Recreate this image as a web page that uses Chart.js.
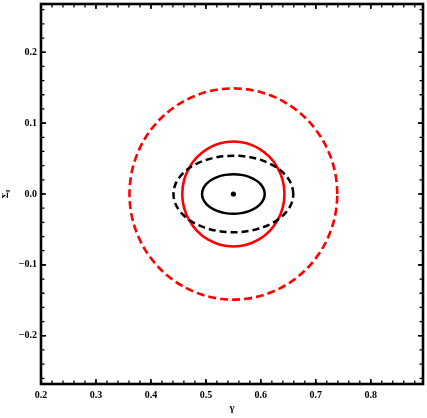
<!DOCTYPE html>
<html>
<head>
<meta charset="utf-8">
<script src="https://cdn.jsdelivr.net/npm/chart.js@4"></script>
<style>
  html, body { margin: 0; padding: 0; background: #fff; }
  #wrap { width: 427px; height: 418px; }
</style>
</head>
<body>
<div id="wrap"><canvas id="contourChart"></canvas></div>
<script>
// Axis ticks and ranges
const xTicks = [0.2, 0.3, 0.4, 0.5, 0.6, 0.7, 0.8];
const yTicks = [-0.2, -0.1, 0.0, 0.1, 0.2];
const xRange = [0.2, 0.895];
const yRange = [-0.268, 0.268];
const minorStep = 0.02;

// Best-fit point (gamma, Sigma0)
const bestFit = [{ x: 0.55, y: 0.0 }];

// Contours, points read around each closed curve (first point not repeated)
const innerSolidX = [0.607, 0.6051, 0.5994, 0.5903, 0.5785, 0.5648, 0.55, 0.5352, 0.5215, 0.5097, 0.5006, 0.4949, 0.493, 0.4949, 0.5006, 0.5097, 0.5215, 0.5352, 0.55, 0.5648, 0.5785, 0.5903, 0.5994, 0.6051];
const innerSolidY = [0, 0.0072, 0.014, 0.0198, 0.0242, 0.027, 0.028, 0.027, 0.0242, 0.0198, 0.014, 0.0072, 0, -0.0072, -0.014, -0.0198, -0.0242, -0.027, -0.028, -0.027, -0.0242, -0.0198, -0.014, -0.0072];

const blackDashX = [0.659, 0.6553, 0.6444, 0.6271, 0.6045, 0.5782, 0.55, 0.5218, 0.4955, 0.4729, 0.4556, 0.4447, 0.441, 0.4447, 0.4556, 0.4729, 0.4955, 0.5218, 0.55, 0.5782, 0.6045, 0.6271, 0.6444, 0.6553];
const blackDashY = [0, 0.014, 0.027, 0.0382, 0.0468, 0.0522, 0.054, 0.0522, 0.0468, 0.0382, 0.027, 0.014, 0, -0.014, -0.027, -0.0382, -0.0468, -0.0522, -0.054, -0.0522, -0.0468, -0.0382, -0.027, -0.014];

const redSolidX = [0.643, 0.6398, 0.6305, 0.6158, 0.5965, 0.5741, 0.55, 0.5259, 0.5035, 0.4842, 0.4695, 0.4602, 0.457, 0.4602, 0.4695, 0.4842, 0.5035, 0.5259, 0.55, 0.5741, 0.5965, 0.6158, 0.6305, 0.6398];
const redSolidY = [0, 0.0192, 0.037, 0.0523, 0.0641, 0.0715, 0.074, 0.0715, 0.0641, 0.0523, 0.037, 0.0192, 0, -0.0192, -0.037, -0.0523, -0.0641, -0.0715, -0.074, -0.0715, -0.0641, -0.0523, -0.037, -0.0192];

const redDashX = [0.739, 0.7326, 0.7137, 0.6836, 0.6445, 0.5989, 0.55, 0.5011, 0.4555, 0.4164, 0.3863, 0.3674, 0.361, 0.3674, 0.3863, 0.4164, 0.4555, 0.5011, 0.55, 0.5989, 0.6445, 0.6836, 0.7137, 0.7326];
const redDashY = [0, 0.0386, 0.0745, 0.1054, 0.129, 0.1439, 0.149, 0.1439, 0.129, 0.1054, 0.0745, 0.0386, 0, -0.0386, -0.0745, -0.1054, -0.129, -0.1439, -0.149, -0.1439, -0.129, -0.1054, -0.0745, -0.0386];

// closed loop: wrap one point at each end so the spline stays smooth at the join,
// the two wrap segments are drawn transparent
function loopPoints(xs, ys) {
  const pts = xs.map((x, i) => ({ x: x, y: ys[i] }));
  return [pts[pts.length - 1], ...pts, pts[0], pts[1]];
}

function curve(xs, ys, color, dash, width) {
  const data = loopPoints(xs, ys);
  const last = data.length - 1;
  return {
    data: data,
    showLine: true,
    borderColor: color,
    borderWidth: width,
    borderDash: dash,
    pointRadius: 0,
    tension: 0.33,
    fill: false,
    segment: {
      borderColor: c => (c.p0DataIndex === 0 || c.p1DataIndex === last) ? 'rgba(0,0,0,0)' : color
    }
  };
}

const labelFont = { family: 'Liberation Serif', size: 10, weight: 'bold' };

function fmt(v) {
  return v.toFixed(1).replace('-', '\u2212');
}

// Mathematica style frame with inward ticks on all four sides
const frameTicks = {
  id: 'frameTicks',
  afterDraw(chart) {
    const ctx = chart.ctx;
    const a = chart.chartArea;
    const x = chart.scales.x;
    const y = chart.scales.y;
    ctx.save();
    ctx.strokeStyle = '#000';

    ctx.lineWidth = 1.3;
    ctx.beginPath();
    for (let v = xRange[0]; v <= xRange[1] + 1e-9; v += minorStep) {
      const px = x.getPixelForValue(v);
      ctx.moveTo(px, a.bottom); ctx.lineTo(px, a.bottom - 3.5);
      ctx.moveTo(px, a.top); ctx.lineTo(px, a.top + 3.5);
    }
    for (let v = -0.26; v <= 0.26 + 1e-9; v += minorStep) {
      const py = y.getPixelForValue(v);
      ctx.moveTo(a.left, py); ctx.lineTo(a.left + 3.5, py);
      ctx.moveTo(a.right, py); ctx.lineTo(a.right - 3.5, py);
    }
    ctx.stroke();

    ctx.lineWidth = 1.6;
    ctx.beginPath();
    xTicks.forEach(v => {
      const px = x.getPixelForValue(v);
      ctx.moveTo(px, a.bottom); ctx.lineTo(px, a.bottom - 5);
      ctx.moveTo(px, a.top); ctx.lineTo(px, a.top + 5);
    });
    yTicks.forEach(v => {
      const py = y.getPixelForValue(v);
      ctx.moveTo(a.left, py); ctx.lineTo(a.left + 5, py);
      ctx.moveTo(a.right, py); ctx.lineTo(a.right - 5, py);
    });
    ctx.stroke();

    ctx.lineWidth = 2.6;
    ctx.strokeRect(a.left, a.top, a.right - a.left, a.bottom - a.top);
    ctx.restore();
  }
};

const ctx = document.getElementById('contourChart').getContext('2d');
new Chart(ctx, {
  type: 'scatter',
  data: {
    datasets: [
      { data: bestFit, pointRadius: 2.6, pointBackgroundColor: '#000', pointBorderWidth: 0, showLine: false },
      curve(innerSolidX, innerSolidY, '#000', [], 2.5),
      curve(blackDashX, blackDashY, '#000', [7, 4], 2.5),
      curve(redSolidX, redSolidY, '#f00', [], 2.6),
      curve(redDashX, redDashY, '#f00', [8, 4], 2.6)
    ]
  },
  options: {
    responsive: true,
    maintainAspectRatio: false,
    animation: false,
    layout: { padding: { top: 1, right: 2.5, left: 0, bottom: 0 } },
    plugins: { legend: { display: false }, tooltip: { enabled: false } },
    scales: {
      x: {
        type: 'linear',
        min: xRange[0],
        max: xRange[1],
        afterBuildTicks: s => { s.ticks = xTicks.map(v => ({ value: v })); },
        afterFit: s => { s.height = 34; s.paddingLeft = 0; s.paddingRight = 0; },
        grid: { display: false, drawTicks: false },
        border: { display: false },
        ticks: { font: labelFont, color: '#000', padding: 5, maxRotation: 0, callback: v => fmt(v) },
        title: { display: true, text: '\u03b3', font: { family: 'Liberation Serif', size: 11, weight: 'bold' }, color: '#000', padding: { top: 0, bottom: 3 } }
      },
      y: {
        type: 'linear',
        min: yRange[0],
        max: yRange[1],
        afterBuildTicks: s => { s.ticks = yTicks.map(v => ({ value: v })); },
        afterFit: s => { s.width = 41; s.paddingTop = 0; s.paddingBottom = 0; },
        grid: { display: false, drawTicks: false },
        border: { display: false },
        ticks: { font: labelFont, color: '#000', padding: 4, callback: v => fmt(v) },
        title: { display: true, text: '\u03a3\u2080', font: { family: 'Liberation Serif', size: 9, weight: 'bold' }, color: '#000', padding: 0 }
      }
    }
  },
  plugins: [frameTicks]
});
</script>
</body>
</html>
